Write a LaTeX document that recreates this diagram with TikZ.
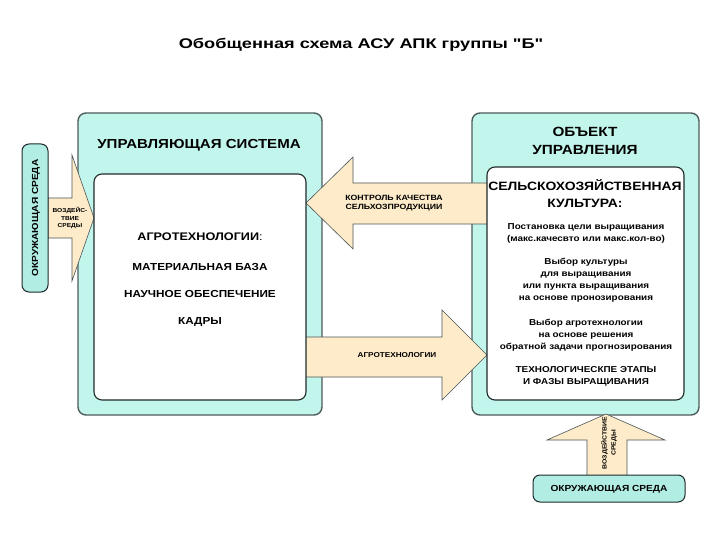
\documentclass[tikz,border=0pt]{standalone}
\usepackage{fontspec}
\setmainfont{Liberation Sans}[FakeStretch=1.15]
\newfontfamily\titlefont{Liberation Sans}[FakeStretch=1.3]
\definecolor{cyfill}{HTML}{C2F5EC}
\definecolor{stripfill}{HTML}{B2EDE4}
\definecolor{peach}{HTML}{FDEBC9}
\definecolor{bigborder}{HTML}{4E5C5C}
\definecolor{darkline}{HTML}{1E2A2A}
\tikzset{
  bigbox/.style={draw=bigborder, line width=1.4pt, fill=cyfill, rounded corners=8pt, inner sep=0pt, outer sep=0pt},
  innerbox/.style={draw=darkline, line width=1.1pt, fill=white, rounded corners=8pt, inner sep=0pt, outer sep=0pt},
  envbox/.style={draw=darkline, line width=1pt, fill=stripfill, rounded corners=7pt, inner sep=0pt, outer sep=0pt},
  blockarrow/.style={draw=darkline!80, line width=0.6pt, fill=peach, line join=miter},
  txt/.style={inner sep=0pt, align=center, font=\bfseries},
  objtxt/.style={txt, font=\fontsize{8.6}{12}\selectfont\bfseries},
}
\begin{document}
\begin{tikzpicture}[x=1pt,y=-1pt]
\useasboundingbox (0,0) rectangle (720,540);
\fill[white] (0,0) rectangle (720,540);

\node[inner sep=0pt, font=\titlefont\fontsize{14}{16}\selectfont\bfseries] (title) at (361,45) {Обобщенная схема АСУ АПК группы "Б"};

% big boxes
\node[bigbox, minimum width=244pt, minimum height=302pt] (ctrl) at (200,264) {};
\node[bigbox, minimum width=227pt, minimum height=302pt] (obj) at (585.5,264) {};

% arrows
\draw[blockarrow] (48,198) -- (72,198) -- (72,155) -- (94,218) -- (72,281) -- (72,238) -- (48,238) -- cycle;
\draw[blockarrow] (489,183) -- (353,183) -- (353,157) -- (306,203) -- (353,249) -- (353,224) -- (489,224) -- cycle;
\draw[blockarrow] (304,337) -- (442,337) -- (442,310) -- (487,355) -- (442,400) -- (442,377) -- (304,377) -- cycle;
\draw[blockarrow] (587,476) -- (587,440) -- (547,440) -- (606,414) -- (665,440) -- (627,440) -- (627,476) -- cycle;

% inner boxes
\node[innerbox, minimum width=212pt, minimum height=226pt] (ctrlin) at (200,287) {};
\node[innerbox, minimum width=197pt, minimum height=233pt] (objin) at (585.5,283.5) {};

% environment boxes
\node[envbox, minimum width=26pt, minimum height=148pt] (envl) at (35,218) {};
\node[envbox, minimum width=152pt, minimum height=27pt] (envb) at (609,488.5) {};

% texts
\node[txt, rotate=90, font=\fontsize{8.8}{11}\selectfont\bfseries] (envltxt) at (36,218) {ОКРУЖАЮЩАЯ СРЕДА};
\node[txt, font=\fontsize{8.8}{11}\selectfont\bfseries] (envbtxt) at (609,489) {ОКРУЖАЮЩАЯ СРЕДА};

\node[txt, font=\fontsize{13.1}{15}\selectfont\bfseries] (ctrltitle) at (199,145) {УПРАВЛЯЮЩАЯ СИСТЕМА};
\node[txt, font=\fontsize{11}{15}\selectfont] (agro) at (200,237) {\textbf{АГРОТЕХНОЛОГИИ}:};
\node[txt, font=\fontsize{10.2}{12}\selectfont\bfseries] (mat) at (200,267) {МАТЕРИАЛЬНАЯ БАЗА};
\node[txt, font=\fontsize{10.2}{12}\selectfont\bfseries] (nauch) at (200,294) {НАУЧНОЕ ОБЕСПЕЧЕНИЕ};
\node[txt, font=\fontsize{10.2}{12}\selectfont\bfseries] (kadry) at (200,322) {КАДРЫ};

\node[txt, font=\fontsize{13.3}{18}\selectfont\bfseries] (objtitle) at (585,141) {ОБЪЕКТ\\УПРАВЛЕНИЯ};
\node[txt, font=\fontsize{12.1}{17}\selectfont\bfseries] (culture) at (585,193.5) {СЕЛЬСКОХОЗЯЙСТВЕННАЯ\\КУЛЬТУРА:};
\node[objtxt] (goal) at (586,233) {Постановка цели выращивания\\(макс.качесвто или макс.кол-во)};
\node[objtxt] (choice) at (586,280) {Выбор культуры\\для выращивания\\или пункта выращивания\\на основе пронозирования};
\node[objtxt] (agrochoice) at (586,335) {Выбор агротехнологии\\на основе решения\\обратной задачи прогнозирования};
\node[objtxt] (stages) at (586,376) {ТЕХНОЛОГИЧЕСКПЕ ЭТАПЫ\\И ФАЗЫ ВЫРАЩИВАНИЯ};

\node[txt, font=\fontsize{5.75}{7.5}\selectfont\bfseries] (envarrtxt) at (70,218) {ВОЗДЕЙС-\\ТВИЕ\\СРЕДЫ};
\node[txt, font=\fontsize{7.6}{9}\selectfont\bfseries] (qualtxt) at (394,203.5) {КОНТРОЛЬ КАЧЕСТВА\\СЕЛЬХОЗПРОДУКЦИИ};
\node[txt, font=\fontsize{7.1}{9}\selectfont\bfseries] (agrotxt) at (397,355) {АГРОТЕХНОЛОГИИ};
\node[txt, rotate=90, font=\fontsize{6}{9}\selectfont\bfseries] (upartxt) at (609,443) {ВОЗДЕЙСТВИЕ\\СРЕДЫ};
\end{tikzpicture}
\end{document}
